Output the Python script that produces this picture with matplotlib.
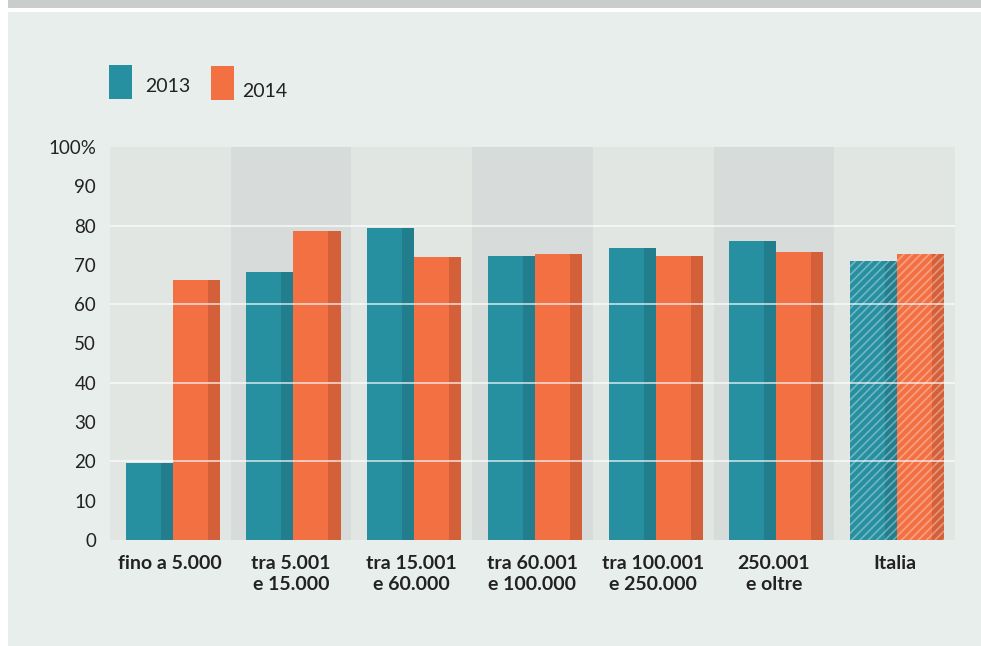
import numpy as np
import matplotlib.pyplot as plt
from matplotlib.patches import Rectangle

categories = ['fino a 5.000', 'tra 5.001\ne 15.000', 'tra 15.001\ne 60.000',
              'tra 60.001\ne 100.000', 'tra 100.001\ne 250.000', '250.001\ne oltre', 'Italia']
v2013 = [19.5, 68.2, 79.4, 72.3, 74.3, 76.1, 71.0]
v2014 = [66.2, 78.6, 72.0, 72.8, 72.3, 73.3, 72.8]
yticks = [0, 10, 20, 30, 40, 50, 60, 70, 80, 90, 100]
ylabels = ['0', '10', '20', '30', '40', '50', '60', '70', '80', '90', '100%']

teal, teal_dk = '#268fa0', '#227e8c'
orange, orange_dk = '#f37043', '#d4603a'
panel = '#e8eeeb'

plt.rcParams['font.family'] = ['Lato', 'DejaVu Sans']
plt.rcParams['hatch.linewidth'] = 1.2

fig = plt.figure(figsize=(9.81, 6.46), dpi=100, facecolor='white')
# top grey bar and the panel behind the chart
fig.patches.append(Rectangle((8/981, 1 - 7.5/646), 1, 7.5/646, transform=fig.transFigure,
                             facecolor='#c9cdcc', edgecolor='none', zorder=-2))
fig.patches.append(Rectangle((8/981, 0), 1, 1 - 12/646, transform=fig.transFigure,
                             facecolor=panel, edgecolor='none', zorder=-2))

ax = fig.add_axes([110/981, 106/646, 845/981, 393/646])
ax.set_facecolor('none')
n = len(categories)
ax.set_xlim(0, n)
ax.set_ylim(0, 100)

for i in range(n):
    ax.axvspan(i, i + 1, color='#e2e6e3' if i % 2 == 0 else '#d7dbda', zorder=0, lw=0)

w = 0.39
dk = 0.1
x = np.arange(n)
for i in range(n):
    hatch = '////' if categories[i] == 'Italia' else None
    for left, val, c, cdk in [(x[i] + 0.13, v2013[i], teal, teal_dk),
                              (x[i] + 0.13 + w, v2014[i], orange, orange_dk)]:
        ax.bar(left, val, width=w - dk, align='edge', color=c, lw=0, zorder=2)
        ax.bar(left + w - dk, val, width=dk, align='edge', color=cdk, lw=0, zorder=2)
        if hatch:
            ax.bar(left, val, width=w, align='edge', color='none',
                   edgecolor=(1, 1, 1, 0.35), hatch=hatch, lw=0, zorder=3)

for g in [20, 40, 60, 80]:
    ax.axhline(g, color='white', lw=1.1, alpha=0.8, zorder=4)

ax.set_yticks(yticks)
ax.set_yticklabels(ylabels, fontsize=13.5, color='#222222')
ax.set_xticks(x + 0.5)
ax.set_xticklabels(categories, fontsize=14, fontweight='bold', color='#222222',
                   linespacing=1.3)
ax.tick_params(length=0)
ax.tick_params(axis='y', pad=10)
ax.tick_params(axis='x', pad=11)
for s in ax.spines.values():
    s.set_visible(False)

# legend
fig.patches.append(Rectangle((109/981, 1 - 99/646), 23/981, 34/646, transform=fig.transFigure,
                             facecolor=teal, edgecolor='none'))
fig.text(145/981, 1 - 92/646, '2013', fontsize=14, color='#222222', va='baseline')
fig.patches.append(Rectangle((211/981, 1 - 100/646), 23/981, 34/646, transform=fig.transFigure,
                             facecolor=orange, edgecolor='none'))
fig.text(242/981, 1 - 97/646, '2014', fontsize=14, color='#222222', va='baseline')

fig.savefig('out.png', dpi=100, facecolor='white')
